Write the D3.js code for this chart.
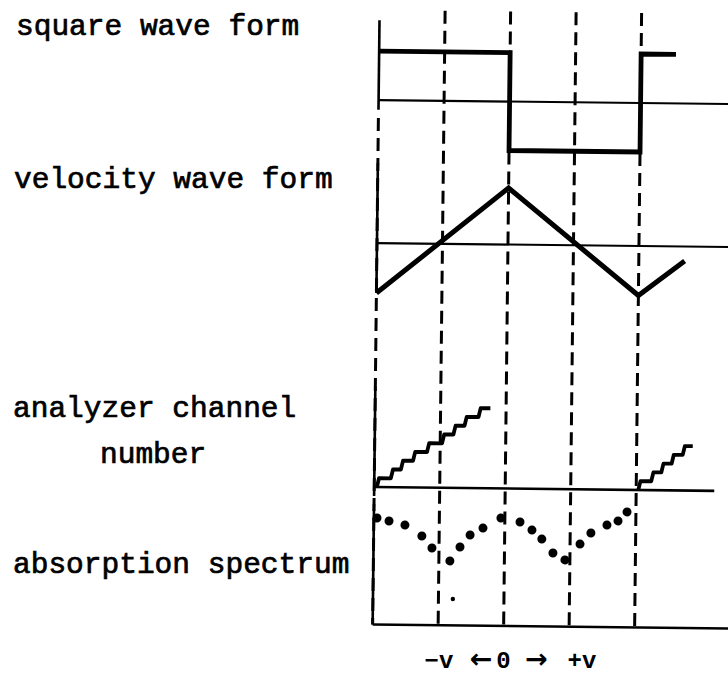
<!DOCTYPE html>
<html>
<head>
<meta charset="utf-8">
<script src="https://cdn.jsdelivr.net/npm/d3@7"></script>
<style>
  html, body { margin: 0; padding: 0; background: #fff; }
  svg { display: block; }
</style>
</head>
<body>
<svg id="chart" width="728" height="674"></svg>
<script>
// Timing markers, as a fraction of one drive period, shared by every trace
const timingMarks = [0, 0.25, 0.5, 0.75, 1];

// Square-wave drive: each level is held from one time to the next
const squareTimes = [0, 0.5, 1.0, 1.133];
const squareLevels = [1, -1, 1];

// Velocity (triangle) wave corner points
const velocityTimes = [0, 0.5, 1.0, 1.175];
const velocityValues = [-1, 1.13, -0.99, -0.29];

// Multichannel analyzer: channel advance times and channel reached
const sweep1Times = [0.010, 0.063, 0.101, 0.147, 0.200, 0.257, 0.300, 0.342, 0.395, 0.440];
const sweep1Channels = [1, 2, 3, 4, 5, 6, 7, 8, 9];
const sweep2Times = [1.008, 1.057, 1.095, 1.134, 1.176, 1.214];
const sweep2Channels = [1, 2, 3, 4, 5];

// Absorption spectrum: counts collected in each channel
const spectrumTimes = [0.012, 0.058, 0.119, 0.184, 0.223, 0.292, 0.330, 0.368, 0.417, 0.485,
                       0.558, 0.604, 0.642, 0.685, 0.731, 0.788, 0.829, 0.890, 0.932, 0.966];
const spectrumCounts = [88.8, 86.4, 83.2, 74.2, 64.3, 53.7, 65.4, 75.5, 81.4, 89.9,
                        86.8, 80.2, 72.8, 61.3, 55.6, 69.0, 78.3, 85.1, 88.6, 96.2];
const strayTimes = [0.305];
const strayCounts = [22];

// Row labels and the velocity legend under the spectrum
const rowLabels = ["square wave form", "velocity wave form", "analyzer channel", "number", "absorption spectrum"];
const velocityLegend = ["\u2212v", "\u2190", "0", "\u2192", "+v"];

const svg = d3.select("#chart");
const ink = "#000";

// Shared time axis
const x = d3.scaleLinear().domain([0, 1]).range([376, 638]);

// One vertical scale per trace
const ySq = d3.scaleLinear().domain([-1, 1]).range([151, 53]);
const yVel = d3.scaleLinear().domain([-1, 1]).range([295, 195]);
const yChan = d3.scaleLinear().domain([0, 10]).range([489, 400]);
const yCnt = d3.scaleLinear().domain([0, 100]).range([626.5, 506.5]);

// The whole trace block sits very slightly tilted on the page
const plot = svg.append("g").attr("transform", "rotate(0.65,550,330)");

const line = d3.line().x(d => x(d[0])).y(d => d[1]);

function seg(t0, y0, t1, y1, w, dash) {
  plot.append("path")
    .attr("d", line([[t0, y0], [t1, y1]]))
    .attr("fill", "none").attr("stroke", ink)
    .attr("stroke-width", w)
    .attr("stroke-dasharray", dash || null);
}

// Dashed timing markers running through all four traces
timingMarks.forEach(t => {
  seg(t, t === 0 ? 120 : 12, t, yCnt(0), 3, "13,7");
});

// Square wave: axis, zero line and the wave
seg(0, ySq(1.63), 0, ySq(-0.2), 2.6);
seg(0, ySq(0), 1.4, ySq(0), 2.2);
const sqPts = [];
squareLevels.forEach((v, i) => {
  sqPts.push([squareTimes[i], ySq(v)]);
  sqPts.push([squareTimes[i + 1], ySq(v)]);
});
plot.append("path")
  .attr("d", line(sqPts))
  .attr("fill", "none").attr("stroke", ink)
  .attr("stroke-width", 4.8).attr("stroke-linejoin", "miter");

// Velocity wave: axis, zero line and the triangle
seg(0, yVel(1.6), 0, yVel(-1), 2.6);
seg(0, yVel(0), 1.4, yVel(0), 2.2);
plot.append("path")
  .attr("d", line(velocityTimes.map((t, i) => [t, yVel(velocityValues[i])])))
  .attr("fill", "none").attr("stroke", ink)
  .attr("stroke-width", 5).attr("stroke-linejoin", "miter");

// Analyzer channel staircases
seg(0, yChan(11.3), 0, yChan(-1), 2.6);
seg(0, yChan(0), 1.298, yChan(0), 2.6);
function stairs(times, chans) {
  const pts = [[times[0], yChan(0)]];
  chans.forEach((c, i) => {
    const prev = i === 0 ? 0 : chans[i - 1];
    pts.push([times[i], yChan(prev)]);
    pts.push([times[i] + 0.008, yChan(c)]);
  });
  pts.push([times[times.length - 1], yChan(chans[chans.length - 1])]);
  return pts;
}
[[sweep1Times, sweep1Channels], [sweep2Times, sweep2Channels]].forEach(([ts, cs]) => {
  plot.append("path")
    .attr("d", line(stairs(ts, cs)))
    .attr("fill", "none").attr("stroke", ink)
    .attr("stroke-width", 3.8).attr("stroke-linejoin", "round");
});

// Absorption spectrum: axes and counts
seg(0, yCnt(100.5), 0, yCnt(0), 2.6);
seg(0, yCnt(0), 1.4, yCnt(0), 2.6);
plot.selectAll("circle.count")
  .data(spectrumTimes.map((t, i) => [t, spectrumCounts[i]]))
  .join("circle").attr("class", "count")
  .attr("cx", d => x(d[0])).attr("cy", d => yCnt(d[1]))
  .attr("r", 4.5).attr("fill", ink);
plot.selectAll("circle.stray")
  .data(strayTimes.map((t, i) => [t, strayCounts[i]]))
  .join("circle").attr("class", "stray")
  .attr("cx", d => x(d[0])).attr("cy", d => yCnt(d[1]))
  .attr("r", 2.2).attr("fill", ink);

// Row labels
const labelPos = [[16, 35], [14, 188], [13, 417], [100, 463], [13, 573]];
svg.selectAll("text.row")
  .data(rowLabels)
  .join("text").attr("class", "row")
  .attr("x", (d, i) => labelPos[i][0])
  .attr("y", (d, i) => labelPos[i][1])
  .attr("font-family", "'Liberation Mono', 'DejaVu Sans Mono', monospace")
  .attr("font-size", 29.5)
  .attr("fill", ink).attr("stroke", ink).attr("stroke-width", 0.7)
  .text(d => d);

// Velocity legend under the spectrum
const legendX = [439, 481, 503.5, 536.5, 582];
svg.selectAll("text.leg")
  .data(velocityLegend)
  .join("text").attr("class", "leg")
  .attr("x", (d, i) => legendX[i])
  .attr("y", 668)
  .attr("text-anchor", "middle")
  .attr("font-family", (d, i) => (i === 1 || i === 3) ? "'DejaVu Sans', sans-serif" : "'Liberation Mono', monospace")
  .attr("font-weight", "bold")
  .attr("font-size", (d, i) => (i === 1 || i === 3) ? 27 : 24)
  .attr("fill", ink)
  .text(d => d);
</script>
</body>
</html>
